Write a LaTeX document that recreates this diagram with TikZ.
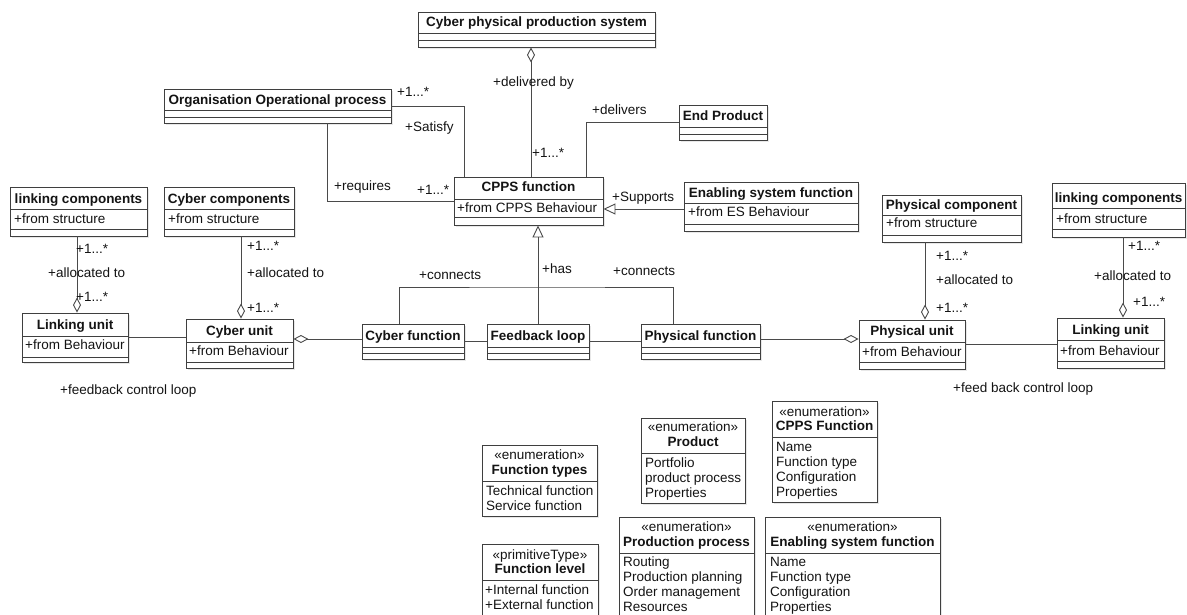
\documentclass[tikz,border=0pt]{standalone}
\usepackage{fontspec}
\setmainfont{Liberation Sans}
\usetikzlibrary{arrows.meta,fit,shadows}
\definecolor{boxc}{HTML}{3F3F3F}
\definecolor{linec}{HTML}{4A4A4A}
\definecolor{txtc}{HTML}{141414}
\tikzset{
  cls/.style={draw=boxc, line width=0.9pt, fill=white, inner sep=0pt,
    drop shadow={opacity=0.18, shadow xshift=2pt, shadow yshift=-2pt}},
  div/.style={draw=boxc, line width=0.9pt},
  ttl/.style={font=\fontsize{13.5}{15}\selectfont\bfseries, text=txtc, anchor=base, inner sep=0pt},
  stereo/.style={font=\fontsize{13.5}{15}\selectfont, text=txtc, anchor=base, inner sep=0pt},
  att/.style={font=\fontsize{13.5}{15}\selectfont, text=txtc, anchor=base west, inner sep=0pt},
  lbl/.style={font=\fontsize{13.5}{15}\selectfont, text=txtc, anchor=base west, inner sep=0pt},
  ln/.style={draw=linec, line width=0.9pt},
  aggS/.style={arrows={Diamond[open,length=15pt,width=8pt]-}},
  aggE/.style={arrows={-Diamond[open,length=15pt,width=8pt]}},
  genE/.style={arrows={-Triangle[open,length=12pt,width=11pt]}},
}
\newcommand\umlbox[6]{%
  \node[cls, fit={(#2,#3) (#4,#5)}] (#1) {};
  \foreach \dy in {#6} {\draw[div] (#2,\dy) -- (#4,\dy);}
}
\newcommand\itemlist[4]{%
  \foreach \t [count=\i] in {#4} {\node[att] (#1-\i) at ({#2},{#3+15*(\i-1)}) {\t};}
}
\begin{document}
\begin{tikzpicture}[x=1pt,y=-1pt]
\useasboundingbox[fill=white] (0,0) rectangle (1187,615);

% ---------- classes ----------
\umlbox{cps}{418}{12}{655}{47}{33,40}
\node[ttl] (cps-t) at (536.5,27) {Cyber physical production system};

\umlbox{org}{164}{89}{391}{123}{110,117}
\node[ttl] (org-t) at (277.5,105) {Organisation Operational process};

\umlbox{cppsf}{454}{177}{603}{225}{199,217}
\node[ttl] (cppsf-t) at (528.5,192) {CPPS function};
\node[att] (cppsf-a) at (457,212) {+from CPPS Behaviour};

\umlbox{ep}{679}{105}{767}{140}{127,134}
\node[ttl] (ep-t) at (723,121) {End Product};

\umlbox{esf}{684}{182}{858}{231}{203,224}
\node[ttl] (esf-t) at (771,198) {Enabling system function};
\node[att] (esf-a) at (688,217) {+from ES Behaviour};

\umlbox{llc}{10}{187}{147}{236}{209,229}
\node[ttl] (llc-t) at (78.5,204) {linking components};
\node[att] (llc-a) at (14,223) {+from structure};

\umlbox{cc}{164}{187}{294}{236}{209,229}
\node[ttl] (cc-t) at (229,204) {Cyber components};
\node[att] (cc-a) at (168,223) {+from structure};

\umlbox{lul}{22}{313}{128}{362}{336,357}
\node[ttl] (lul-t) at (75,329) {Linking unit};
\node[att] (lul-a) at (25,349) {+from Behaviour};

\umlbox{cu}{186}{319}{293}{368}{342,362}
\node[ttl] (cu-t) at (239.5,335) {Cyber unit};
\node[att] (cu-a) at (189,355) {+from Behaviour};

\umlbox{cf}{362}{324}{464}{359}{347,353}
\node[ttl] (cf-t) at (413,340) {Cyber function};

\umlbox{fl}{487}{324}{589}{359}{347,353}
\node[ttl] (fl-t) at (538,340) {Feedback loop};

\umlbox{pf}{641}{324}{760}{359}{347,353}
\node[ttl] (pf-t) at (700.5,340) {Physical function};

\umlbox{pc}{882}{195}{1021}{242}{215,235}
\node[ttl] (pc-t) at (951.5,209) {Physical component};
\node[att] (pc-a) at (886,228) {+from structure};

\umlbox{lcr}{1052}{183}{1185}{237}{208,229}
\node[ttl] (lcr-t) at (1118.5,203) {linking components};
\node[att] (lcr-a) at (1056,223) {+from structure};

\umlbox{pu}{859}{320}{965}{369}{342,362}
\node[ttl] (pu-t) at (912,335) {Physical unit};
\node[att] (pu-a) at (862,356) {+from Behaviour};

\umlbox{lur}{1057}{318}{1164}{368}{340,361}
\node[ttl] (lur-t) at (1110.5,334) {Linking unit};
\node[att] (lur-a) at (1060,355) {+from Behaviour};

% ---------- enumerations ----------
\umlbox{ft}{482}{445}{597}{516}{481}
\node[stereo] (ft-s) at (539.5,459) {«enumeration»};
\node[ttl] (ft-t) at (539.5,474) {Function types};
\itemlist{ft}{486}{495}{Technical function,Service function}

\umlbox{prod}{641}{418}{745}{503}{453}
\node[stereo] (prod-s) at (693,431.5) {«enumeration»};
\node[ttl] (prod-t) at (693,446.5) {Product};
\itemlist{prod}{645}{467.5}{Portfolio,product process,Properties}

\umlbox{pp}{619}{517}{754}{640}{553}
\node[stereo] (pp-s) at (686.5,531.5) {«enumeration»};
\node[ttl] (pp-t) at (686.5,546.5) {Production process};
\itemlist{pp}{623}{566.5}{Routing,Production planning,Order management,Resources}

\umlbox{flv}{482}{544}{598}{640}{580}
\node[stereo] (flv-s) at (540,559) {«primitiveType»};
\node[ttl] (flv-t) at (540,573.5) {Function level};
\itemlist{flv}{485}{594}{+Internal function,+External function}

\umlbox{cppse}{772}{401}{877}{502}{437}
\node[stereo] (cppse-s) at (824.5,416.5) {«enumeration»};
\node[ttl] (cppse-t) at (824.5,430.5) {CPPS Function};
\itemlist{cppse}{776}{451.5}{Name,Function type,Configuration,Properties}

\umlbox{ese}{765}{517}{940}{640}{553}
\node[stereo] (ese-s) at (852.5,531.5) {«enumeration»};
\node[ttl] (ese-t) at (852.5,546.5) {Enabling system function};
\itemlist{ese}{770}{566.5}{Name,Function type,Configuration,Properties}

% ---------- connectors ----------
\draw[ln, aggS] ([xshift=-5.5pt]cps.south) -- ([xshift=2.5pt]cppsf.north);
\draw[ln] (org.east) -| ([xshift=11pt]cppsf.north west);
\draw[ln] ([xshift=164pt]org.south west) |- (cppsf.west);
\draw[ln] (ep.west) -| ([xshift=-17pt]cppsf.north east);
\draw[ln, genE] ([yshift=-2.5pt]esf.west) -- ([yshift=-2.5pt]esf.west -| cppsf.east);
\draw[ln, genE] (fl.north) -- (fl.north |- cppsf.south);
\coordinate (bus) at (538,287);
\draw[ln] ([xshift=-14pt]cf.north) |- (bus) -| ([xshift=-27.5pt]pf.north);
\draw[ln, aggS] ([yshift=4.5pt]cu.east) -- ([yshift=4.5pt]cu.east -| cf.west);
\draw[ln] (cf.east) -- (fl.west);
\draw[ln] (fl.east) -- (pf.west);
\draw[ln, aggE] ([yshift=2.5pt]pf.east) -- ([yshift=2.5pt]pf.east -| pu.west);
\draw[ln] (pu.east) -- (pu.east -| lur.west);
\draw[ln] (lul.east) -- (lul.east -| cu.west);
\draw[ln, aggE] ([xshift=-1.5pt]llc.south) -- ([xshift=-1.5pt]llc.south |- lul.north);
\draw[ln, aggE] ([xshift=12pt]cc.south) -- ([xshift=12pt]cc.south |- cu.north);
\draw[ln, aggE] ([xshift=-26.5pt]pc.south) -- ([xshift=-26.5pt]pc.south |- pu.north);
\draw[ln, aggE] ([xshift=4.5pt]lcr.south) -- ([xshift=4.5pt]lcr.south |- lur.north);

% ---------- labels ----------
\node[lbl] (l-delivby) at (493,87) {+delivered by};
\node[lbl] (l-m1) at (397,97) {+1...*};
\node[lbl] (l-sat) at (405,132) {+Satisfy};
\node[lbl] (l-delivers) at (592,115) {+delivers};
\node[lbl] (l-m2) at (532,158) {+1...*};
\node[lbl] (l-req) at (334,191) {+requires};
\node[lbl] (l-m3) at (417,194) {+1...*};
\node[lbl] (l-sup) at (612,201.5) {+Supports};
\node[lbl] (l-con1) at (419,279) {+connects};
\node[lbl] (l-has) at (542,273) {+has};
\node[lbl] (l-con2) at (613,275) {+connects};

\node[lbl] (l-a1) at (76,254) {+1...*};
\node[lbl] (l-a2) at (48,277) {+allocated to};
\node[lbl] (l-a3) at (76,301) {+1...*};
\node[lbl] (l-b1) at (247,251) {+1...*};
\node[lbl] (l-b2) at (247,277) {+allocated to};
\node[lbl] (l-b3) at (247,312) {+1...*};
\node[lbl] (l-fcl) at (60,394) {+feedback control loop};

\node[lbl] (l-c1) at (936,260) {+1...*};
\node[lbl] (l-c2) at (936,284) {+allocated to};
\node[lbl] (l-c3) at (936,312) {+1...*};
\node[lbl] (l-d1) at (1128,251) {+1...*};
\node[lbl] (l-d2) at (1094,280) {+allocated to};
\node[lbl] (l-d3) at (1133,306) {+1...*};
\node[lbl] (l-fbcl) at (953,392) {+feed back control loop};
\end{tikzpicture}
\end{document}
